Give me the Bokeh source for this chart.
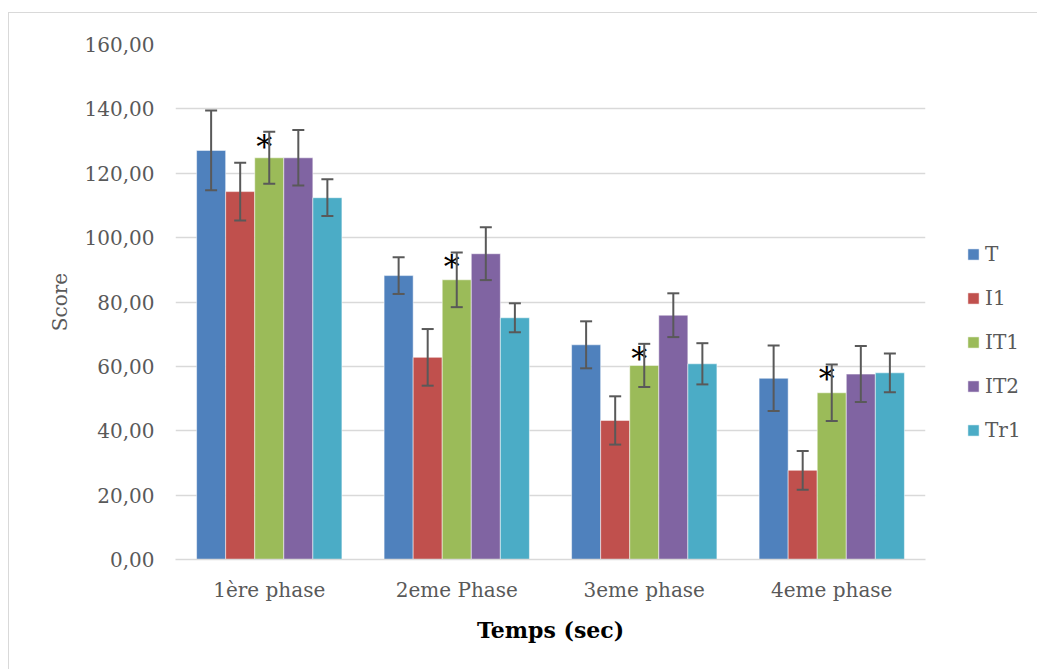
from bokeh.plotting import figure
from bokeh.models import ColumnDataSource, FactorRange, Range1d, FixedTicker, Whisker, TeeHead, Legend, LegendItem
from bokeh.transform import dodge
from bokeh.core.properties import value
from bokeh.embed import file_html
from bokeh.resources import INLINE

phases = ["1ère phase", "2eme Phase", "3eme phase", "4eme phase"]
series = ["T", "I1", "IT1", "IT2", "Tr1"]
colors = ["#4F81BD", "#C0504D", "#9BBB59", "#8064A2", "#4BACC6"]

T_vals = [127.1, 88.2, 66.7, 56.3]
T_err = [12.4, 5.7, 7.3, 10.2]
I1_vals = [114.3, 62.8, 43.2, 27.7]
I1_err = [9.0, 8.8, 7.5, 6.0]
IT1_vals = [124.8, 86.9, 60.3, 51.8]
IT1_err = [8.1, 8.5, 6.7, 8.8]
IT2_vals = [124.8, 95.0, 75.9, 57.6]
IT2_err = [8.6, 8.2, 6.8, 8.7]
Tr1_vals = [112.4, 75.1, 60.8, 58.0]
Tr1_err = [5.7, 4.5, 6.4, 6.0]

star_series = "IT1"
y_ticks = [0, 20, 40, 60, 80, 100, 120, 140, 160]

vals = {"T": T_vals, "I1": I1_vals, "IT1": IT1_vals, "IT2": IT2_vals, "Tr1": Tr1_vals}
errs = {"T": T_err, "I1": I1_err, "IT1": IT1_err, "IT2": IT2_err, "Tr1": Tr1_err}

FONT = "DejaVu Serif"
GRAY = "#595959"

p = figure(x_range=FactorRange(*phases), y_range=Range1d(0, 160),
           frame_width=750, frame_height=515,
           min_border_left=166, min_border_right=105, min_border_top=31, min_border_bottom=110,
           output_backend="svg", toolbar_location=None)
p.styles = {"border": "1px solid #d9d9d9", "margin-left": "8px", "margin-top": "12px"}

bar_w = 0.155
offsets = [-2 * bar_w, -bar_w, 0.0, bar_w, 2 * bar_w]

items = []
for name, col, off in zip(series, colors, offsets):
    v = vals[name]
    e = errs[name]
    src = ColumnDataSource(dict(cat=phases, val=v,
                                up=[a + b for a, b in zip(v, e)],
                                lo=[a - b for a, b in zip(v, e)]))
    r = p.vbar(x=dodge("cat", off, range=p.x_range), top="val", width=bar_w, source=src,
               fill_color=col, line_color="white", line_alpha=0.5, line_width=1)
    items.append(LegendItem(label=name, renderers=[r]))
    w = Whisker(base=dodge("cat", off, range=p.x_range), upper="up", lower="lo", source=src,
                line_color=GRAY, line_width=2, level="annotation",
                upper_head=TeeHead(size=12, line_color=GRAY, line_width=2),
                lower_head=TeeHead(size=12, line_color=GRAY, line_width=2))
    p.add_layout(w)
    if name == star_series:
        p.text(x=dodge("cat", off, range=p.x_range), y="up", text=value("*"), source=src,
               text_font=value(FONT), text_font_size="32px", text_color="black",
               text_align="center", text_baseline="middle", x_offset=-5, y_offset=15,
               level="annotation")

legend = Legend(items=items, location=(41, 117), orientation="vertical",
                padding=0, margin=0, spacing=20, glyph_height=14, glyph_width=14,
                label_height=20, label_standoff=5,
                label_text_font=FONT, label_text_font_size="20px", label_text_color=GRAY,
                border_line_color=None, background_fill_alpha=0)
p.add_layout(legend, "right")

p.yaxis.ticker = FixedTicker(ticks=y_ticks)
p.yaxis.major_label_overrides = {t: f"{t},00" for t in y_ticks}
p.yaxis.axis_line_color = None
p.yaxis.major_tick_line_color = None
p.yaxis.minor_tick_line_color = None
p.yaxis.major_label_text_font = FONT
p.yaxis.major_label_text_font_size = "20px"
p.yaxis.major_label_text_color = GRAY
p.yaxis.major_label_standoff = 15
p.yaxis.axis_label = "Score"
p.yaxis.axis_label_text_font = FONT
p.yaxis.axis_label_text_font_size = "20px"
p.yaxis.axis_label_text_font_style = "normal"
p.yaxis.axis_label_text_color = GRAY
p.yaxis.axis_label_standoff = 10

p.xaxis.axis_line_color = "#d9d9d9"
p.xaxis.axis_line_width = 1.5
p.xaxis.major_tick_line_color = None
p.xaxis.minor_tick_line_color = None
p.xaxis.major_label_text_font = FONT
p.xaxis.major_label_text_font_size = "20px"
p.xaxis.major_label_text_color = GRAY
p.xaxis.major_label_standoff = 12
p.xaxis.axis_label = "Temps (sec)"
p.xaxis.axis_label_text_font = FONT
p.xaxis.axis_label_text_font_size = "22px"
p.xaxis.axis_label_text_font_style = "bold"
p.xaxis.axis_label_text_color = "black"
p.xaxis.axis_label_standoff = 12

p.xgrid.grid_line_color = None
p.ygrid.grid_line_color = "#d9d9d9"
p.ygrid.grid_line_width = 1.5
p.outline_line_color = None
p.x_range.range_padding = 0
p.x_range.group_padding = 0

open("out.html", "w").write(file_html(p, INLINE))
